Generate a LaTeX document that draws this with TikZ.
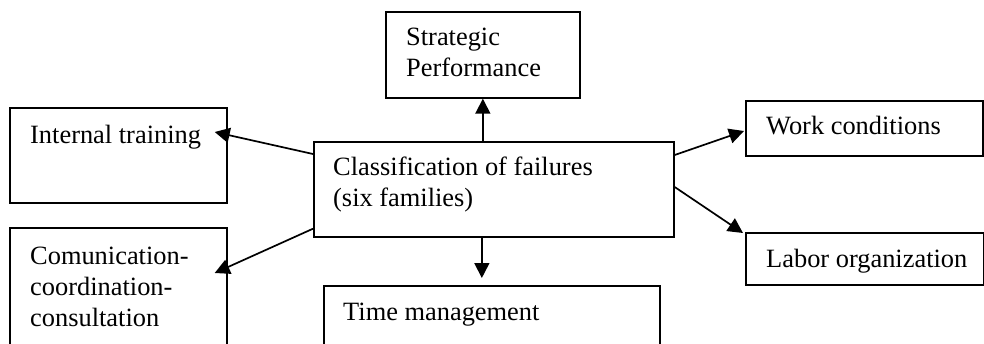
\documentclass[tikz,border=0pt]{standalone}
\usepackage{fontspec}
\setmainfont{Liberation Serif}
\usetikzlibrary{arrows.meta,calc}
\begin{document}
\begin{tikzpicture}[x=1pt,y=-1pt,
  box/.style={draw,line width=1.7pt,rectangle,inner sep=0pt,anchor=north west},
  txt/.style={inner sep=0pt,anchor=base west,align=left,font=\fontsize{26.4}{31}\selectfont},
  arr/.style={line width=1.7pt,-{Triangle[length=15pt,width=15pt]}}]
\useasboundingbox (0,0) rectangle (984,343);
\clip (0,0) rectangle (984,343);
% boxes
\node[box,minimum width=194pt,minimum height=86pt] (strat) at (385,11) {};
\node[box,minimum width=360pt,minimum height=95pt] (cls) at (313,141) {};
\node[box,minimum width=217pt,minimum height=95pt] (int) at (9,107) {};
\node[box,minimum width=217pt,minimum height=140pt] (com) at (9,227) {};
\node[box,minimum width=336pt,minimum height=90pt] (time) at (323,285) {};
\node[box,minimum width=237pt,minimum height=55pt] (work) at (745,100) {};
\node[box,minimum width=238pt,minimum height=52pt] (labor) at (745,232) {};
% texts (multi-line: anchor at last line's baseline)
\node[txt] (stratT) at (406,76) {Strategic\\Performance};
\node[txt] (clsT) at (333,206) {Classification of failures\\(six families)};
\node[txt] (intT) at (30,143) {Internal training};
\node[txt] (comT) at (30,326) {Comunication-\\coordination-\\consultation};
\node[txt] (timeT) at (343,320) {Time management};
\node[txt] (workT) at (766,134) {Work conditions};
\node[txt] (laborT) at (766,267) {Labor organization};
% connectors
\draw[arr] (strat.south |- cls.north) -- (strat.south);
\draw[arr] ($(cls.north west)+(0,13)$) -- ($(int.north east)+(-13,25)$);
\draw[arr] ($(cls.south west)+(0,-9)$) -- ($(com.north east)+(-13,46)$);
\draw[arr] ($(cls.south)+(-12,0)$) -- ($(cls.south |- time.north)+(-12,-7)$);
\draw[arr] ($(cls.north east)+(0,14)$) -- ($(work.north west)+(-1,31)$);
\draw[arr] ($(cls.north east)+(0,46)$) -- ($(labor.north west)+(-2,1)$);
\end{tikzpicture}
\end{document}
